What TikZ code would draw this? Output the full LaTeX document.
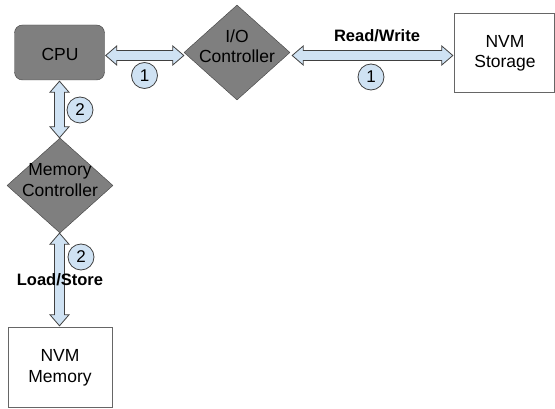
\documentclass[tikz,border=0pt]{standalone}
\usepackage{fontspec}
\setmainfont{Liberation Sans}
\usetikzlibrary{shapes.geometric,calc}
\definecolor{boxgray}{HTML}{7F7F7F}
\definecolor{lblue}{HTML}{CFE2F3}
\definecolor{edge}{HTML}{404040}
\tikzset{
  every node/.style={font=\fontsize{17.5}{20.5}\selectfont},
  graybox/.style={draw=edge, fill=boxgray, rounded corners=8pt, minimum width=90pt, minimum height=55pt, inner sep=0pt},
  whitebox/.style={draw=edge!80, fill=white, minimum width=100pt, minimum height=79pt, inner sep=0pt},
  dia/.style={diamond, draw=edge, fill=boxgray, minimum width=106pt, minimum height=95pt, inner sep=0pt},
  lbl/.style={align=center, inner sep=0pt},
  numc/.style={circle, draw=edge, line width=0.8pt, fill=lblue, minimum size=26pt, inner sep=0pt, font=\fontsize{17}{18}\selectfont},
  boldlbl/.style={inner sep=0pt, font=\fontsize{16.5}{18}\selectfont\bfseries},
  arr/.style={draw=edge, fill=lblue, line width=0.8pt, line join=miter}
}
\newcommand\hdarrow[2]{%
  \path[arr] let \p1=#1, \p2=#2 in
    (\x1,\y1) -- (\x1+11pt,\y1+9.5pt) -- (\x1+11pt,\y1+5pt) -- (\x2-11pt,\y1+5pt) -- (\x2-11pt,\y1+9.5pt)
    -- (\x2,\y1) -- (\x2-11pt,\y1-9.5pt) -- (\x2-11pt,\y1-5pt) -- (\x1+11pt,\y1-5pt) -- (\x1+11pt,\y1-9.5pt) -- cycle;}
\newcommand\vdarrow[2]{%
  \path[arr] let \p1=#1, \p2=#2 in
    (\x1,\y1) -- (\x1+9.5pt,\y1-11pt) -- (\x1+5pt,\y1-11pt) -- (\x1+5pt,\y2+11pt) -- (\x1+9.5pt,\y2+11pt)
    -- (\x1,\y2) -- (\x1-9.5pt,\y2+11pt) -- (\x1-5pt,\y2+11pt) -- (\x1-5pt,\y1-11pt) -- (\x1-9.5pt,\y1-11pt) -- cycle;}
\begin{document}
\begin{tikzpicture}[x=1pt,y=-1pt]
\useasboundingbox (0,0) rectangle (555,409);
\node[graybox] (cpu) at (59.5,52.5) {};
\node[lbl] (cputxt) at (60,54) {CPU};
\node[dia] (io) at (237,52.5) {};
\node[lbl] (iotxt) at (237,46) {I/O\\Controller};
\node[whitebox] (nvs) at (504,52.5) {};
\node[lbl] (nvstxt) at (505,53.5) {NVM\\Storage};
\node[dia] (mc) at (60,185.5) {};
\node[lbl] (mctxt) at (60,180) {Memory\\Controller};
\node[whitebox, minimum width=104pt, minimum height=80pt] (nvm) at (60,367) {};
\node[lbl] (nvmtxt) at (60,368) {NVM\\Memory};
% arrows
\coordinate (a1s) at ($(cpu.east)+(1,3)$);
\coordinate (a1e) at ($(io.west)+(0,3)$);
\hdarrow{(a1s)}{(a1e)}
\coordinate (a2s) at ($(io.east)+(2,3)$);
\coordinate (a2e) at ($(nvs.west)+(-1,3)$);
\hdarrow{(a2s)}{(a2e)}
\coordinate (a3s) at ($(cpu.south)+(0,1)$);
\coordinate (a3e) at ($(mc.north)+(-0.5,0)$);
\vdarrow{(a3s)}{(a3e)}
\coordinate (a4s) at ($(mc.south)+(-0.5,0)$);
\coordinate (a4e) at ($(nvm.north)+(-0.5,-1)$);
\vdarrow{(a4s)}{(a4e)}
% labels
\node[boldlbl] (rw) at (377,36) {Read/Write};
\node[boldlbl] (ls) at (60,280) {Load/Store};
\node[numc] (n1a) at (144.5,75.5) {1};
\node[numc] (n1b) at (371,77) {1};
\node[numc] (n2a) at (80,110) {2};
\node[numc] (n2b) at (81,257) {2};
\end{tikzpicture}
\end{document}
